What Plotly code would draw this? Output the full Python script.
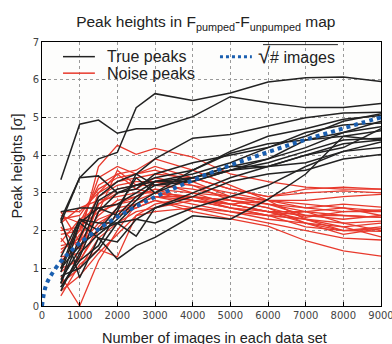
import plotly.graph_objects as go

x_pts = [500, 1000, 1500, 2000, 2500, 3000, 4000, 5000, 6000, 7000, 8000, 9000]

true_peaks = [
    [3.35, 4.82, 4.93, 4.58, 4.70, 4.70, 5.02, 5.55, 5.39, 5.26, 5.26, 5.37],
    [2.30, 3.40, 3.90, 4.07, 5.26, 5.63, 5.45, 5.65, 5.94, 6.05, 6.07, 5.95],
    [0.60, 1.80, 2.90, 3.30, 3.50, 3.90, 4.45, 4.55, 4.77, 4.99, 5.12, 5.14],
    [0.50, 1.30, 2.50, 3.00, 3.20, 3.40, 3.60, 4.10, 4.50, 4.70, 4.95, 5.05],
    [0.90, 2.20, 2.60, 2.70, 3.00, 3.30, 3.50, 3.80, 4.20, 4.60, 4.80, 4.85],
    [1.00, 1.60, 2.00, 2.20, 2.70, 3.00, 3.60, 4.05, 4.30, 4.40, 4.60, 4.75],
    [2.50, 2.60, 2.60, 2.40, 2.90, 3.20, 3.40, 3.70, 3.90, 4.40, 4.50, 4.65],
    [0.40, 1.40, 1.90, 2.30, 2.80, 3.30, 3.40, 3.60, 3.80, 4.10, 4.40, 4.45],
    [2.30, 0.75, 1.80, 1.70, 2.30, 2.60, 3.00, 3.40, 3.70, 4.00, 4.30, 4.40],
    [0.60, 2.20, 1.80, 1.24, 1.60, 1.82, 2.39, 2.30, 2.83, 3.50, 4.50, 4.40],
    [1.30, 2.30, 2.20, 2.20, 1.85, 2.60, 2.90, 3.30, 3.50, 3.60, 3.90, 4.02],
    [0.80, 1.00, 1.50, 2.20, 2.30, 2.20, 2.60, 2.90, 3.20, 3.70, 4.10, 4.20],
    [0.50, 1.20, 1.60, 2.50, 3.50, 3.20, 3.30, 3.60, 3.90, 4.20, 4.60, 4.90],
    [2.20, 3.40, 3.45, 3.00, 3.10, 3.50, 3.80, 4.00, 4.20, 4.50, 4.90, 5.10],
    [0.70, 1.50, 2.80, 3.10, 3.20, 3.30, 3.30, 3.60, 3.70, 4.00, 4.20, 4.70],
    [1.00, 2.30, 2.00, 2.60, 3.40, 3.00, 3.40, 3.70, 3.70, 3.80, 4.10, 4.35],
]

noise_peaks = [
    [1.50, 1.80, 3.70, 4.26, 4.02, 4.18, 3.95, 3.50, 3.30, 3.15, 3.10, 3.10],
    [0.80, 0.00, 1.20, 2.00, 2.70, 2.90, 2.80, 2.60, 2.40, 2.30, 2.20, 2.00],
    [0.27, 1.10, 1.50, 1.30, 2.40, 2.70, 2.90, 2.80, 2.70, 2.50, 2.40, 2.35],
    [1.20, 1.60, 2.20, 2.50, 2.60, 2.80, 2.50, 2.30, 2.12, 1.73, 1.46, 1.32],
    [2.50, 2.50, 3.00, 3.30, 3.40, 3.50, 3.40, 3.10, 2.90, 3.00, 3.05, 3.00],
    [2.40, 2.20, 3.20, 3.50, 3.60, 3.90, 3.60, 3.20, 2.80, 2.60, 2.70, 2.62],
    [1.90, 2.00, 2.90, 3.20, 3.30, 3.30, 3.00, 2.90, 2.70, 2.60, 2.50, 2.55],
    [2.10, 1.50, 2.70, 3.00, 3.10, 3.40, 3.20, 2.80, 2.60, 2.35, 2.50, 2.50],
    [1.60, 1.70, 2.40, 2.80, 2.90, 3.10, 3.00, 2.70, 2.50, 2.40, 2.30, 2.40],
    [0.90, 1.30, 2.50, 2.70, 2.80, 3.00, 2.80, 2.60, 2.50, 2.50, 2.20, 2.25],
    [1.10, 1.90, 2.30, 2.50, 2.70, 2.90, 2.70, 2.50, 2.30, 2.20, 2.10, 2.20],
    [2.20, 2.60, 2.80, 2.90, 3.00, 3.00, 2.90, 2.80, 2.60, 2.20, 2.00, 2.05],
    [0.60, 1.00, 1.80, 2.20, 2.50, 2.60, 2.80, 2.70, 2.50, 2.30, 2.00, 1.98],
    [1.40, 2.00, 3.40, 3.70, 3.50, 3.60, 3.30, 2.90, 2.80, 2.30, 2.10, 1.83],
    [1.00, 1.20, 2.00, 2.40, 2.60, 2.80, 2.60, 2.40, 2.20, 2.00, 1.80, 1.75],
    [2.30, 2.40, 3.10, 3.40, 3.50, 3.70, 3.40, 3.10, 2.90, 3.10, 3.15, 3.10],
    [1.70, 2.30, 2.60, 2.70, 2.90, 3.10, 2.80, 2.70, 2.80, 2.80, 2.90, 2.96],
    [0.40, 0.80, 1.40, 1.90, 2.40, 2.50, 2.60, 2.50, 2.40, 2.50, 2.60, 2.52],
    [1.30, 1.40, 2.70, 3.10, 3.20, 3.20, 3.10, 2.90, 2.70, 2.40, 2.40, 2.35],
    [2.00, 2.10, 2.50, 3.60, 3.20, 3.30, 3.20, 3.00, 2.80, 2.70, 2.60, 2.40],
    [1.80, 1.20, 2.10, 2.60, 2.70, 2.90, 2.90, 2.60, 2.40, 2.10, 2.00, 2.10],
    [2.50, 1.70, 3.00, 3.50, 3.10, 3.00, 2.90, 2.70, 2.50, 2.20, 1.90, 2.05],
]

sqrt_x = [0, 100, 250, 500, 750, 1000, 1500, 2000, 2500, 3000, 3500, 4000, 4500,
          5000, 5500, 6000, 6500, 7000, 7500, 8000, 8500, 9000]
sqrt_y = [0.0, 0.53, 0.83, 1.18, 1.44, 1.67, 2.04, 2.36, 2.64, 2.89, 3.12, 3.33, 3.54,
          3.73, 3.91, 4.08, 4.25, 4.41, 4.56, 4.71, 4.86, 5.0]

x_ticks = [0, 1000, 2000, 3000, 4000, 5000, 6000, 7000, 8000, 9000]
y_ticks = [0, 1, 2, 3, 4, 5, 6, 7]

legend_labels = ["True peaks", "Noise peaks", "# images"]

BLACK = "#222222"
RED = "#e8392c"
BLUE = "#1a5fb0"
TXT = "#222222"
FONT = "Liberation Sans"

fig = go.Figure()

for ys in noise_peaks:
    fig.add_trace(go.Scatter(x=x_pts, y=ys, mode="lines",
                             line=dict(color=RED, width=1.3),
                             name=legend_labels[1], showlegend=False))
for ys in true_peaks:
    fig.add_trace(go.Scatter(x=x_pts, y=ys, mode="lines",
                             line=dict(color=BLACK, width=1.5),
                             name=legend_labels[0], showlegend=False))

fig.add_trace(go.Scatter(x=sqrt_x, y=sqrt_y, mode="lines", line_shape="spline",
                         line=dict(color=BLUE, width=4, dash="dot"),
                         name="√" + legend_labels[2], showlegend=False))

axis_common = dict(showline=True, linecolor="black", linewidth=1, mirror=True,
                   showgrid=True, gridcolor="#9a9a9a", griddash="dot", gridwidth=1,
                   ticks="inside", ticklen=4, tickcolor="black",
                   tickfont=dict(family="DejaVu Sans", size=10, color="#444444"),
                   ticklabeloverflow="allow", zeroline=False)

# manual legend (paper coordinates)
row1, row2 = 0.9445, 0.882
shapes = [
    dict(type="line", xref="paper", yref="paper", x0=0.062, x1=0.156, y0=row1, y1=row1,
         line=dict(color=BLACK, width=1.5)),
    dict(type="line", xref="paper", yref="paper", x0=0.062, x1=0.156, y0=row2, y1=row2,
         line=dict(color=RED, width=1.5)),
    dict(type="line", xref="paper", yref="paper", x0=0.525, x1=0.619, y0=row1, y1=row1,
         line=dict(color=BLUE, width=3, dash="dot")),
    dict(type="line", xref="paper", yref="paper", x0=0.652, x1=0.873, y0=0.99, y1=0.99,
         line=dict(color=TXT, width=1)),
]
annotations = [
    dict(text=legend_labels[0], xref="paper", yref="paper", x=0.186, y=row1,
         xanchor="left", yanchor="middle", showarrow=False,
         font=dict(family=FONT, size=16, color=TXT)),
    dict(text=legend_labels[1], xref="paper", yref="paper", x=0.186, y=row2,
         xanchor="left", yanchor="middle", showarrow=False,
         font=dict(family=FONT, size=16, color=TXT)),
    dict(text="<span style='font-size:22px'>√</span>" + legend_labels[2],
         xref="paper", yref="paper", x=0.632, y=row1 + 0.005,
         xanchor="left", yanchor="middle", showarrow=False,
         font=dict(family=FONT, size=16, color=TXT)),
    dict(text="Peak heights [σ]", xref="paper", yref="paper", x=-0.074, y=0.532,
         xanchor="center", yanchor="middle", textangle=-90, showarrow=False,
         font=dict(family=FONT, size=14.5, color=TXT)),
    dict(text="Number of images in each data set", xref="paper", yref="paper",
         x=0.508, y=-0.085, xanchor="center", yanchor="top", showarrow=False,
         font=dict(family=FONT, size=14.5, color=TXT)),
]

fig.update_layout(
    width=392, height=344,
    margin=dict(l=42, r=11, t=42, b=38),
    paper_bgcolor="white", plot_bgcolor="#fdfdfc",
    title=dict(text="Peak heights in F<sub>pumped</sub>-F<sub>unpumped</sub> map",
               x=0.525, xanchor="center", y=0.936, yanchor="middle",
               font=dict(family=FONT, size=15.5, color=TXT)),
    xaxis=dict(range=[0, 9000], tickvals=x_ticks, ticktext=[str(v) for v in x_ticks],
               automargin=False, **axis_common),
    yaxis=dict(range=[0, 7], tickvals=y_ticks, ticktext=[str(v) for v in y_ticks],
               automargin=False, **axis_common),
    shapes=shapes,
    annotations=annotations,
    showlegend=False,
)

fig.write_html("out.html")
